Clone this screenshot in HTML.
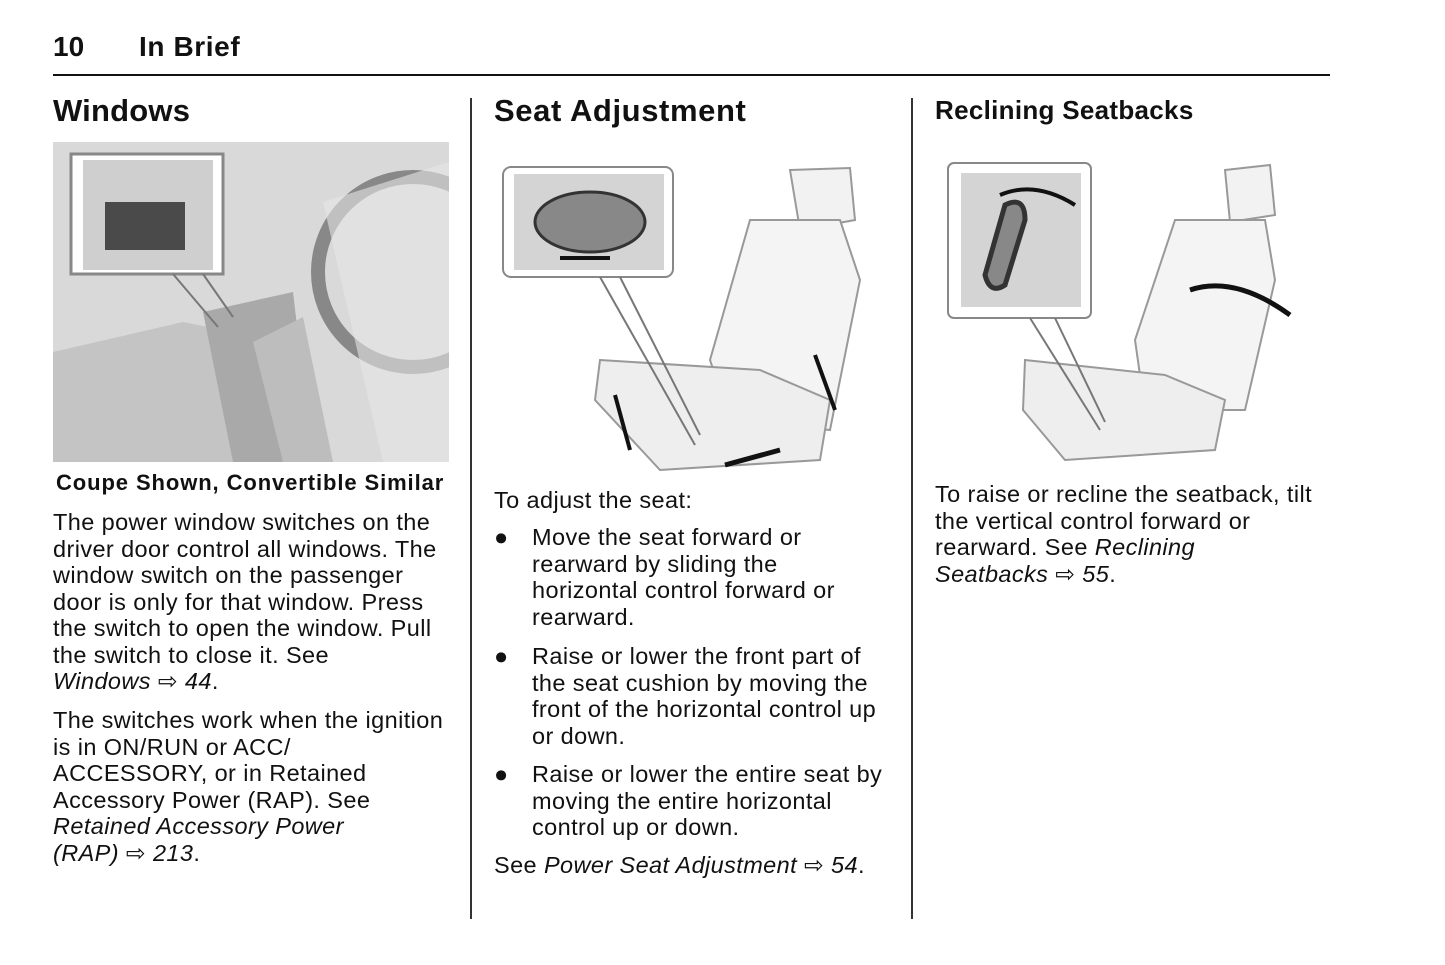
<!DOCTYPE html>
<html><head><meta charset="utf-8"><style>
body{margin:0;width:1445px;height:965px;background:#fff;position:relative;font-family:"Liberation Sans",Arial,sans-serif;color:#111;overflow:hidden}
.t{position:absolute;white-space:nowrap;font-size:23.5px;line-height:26.5px;letter-spacing:0.4px}
.b{font-weight:bold}
i{font-style:italic}
</style></head><body>
<div class="t b" style="left:53px;top:31px;font-size:28px;line-height:32px;letter-spacing:0">10</div>
<div class="t b" style="left:139px;top:31px;font-size:28px;line-height:32px;letter-spacing:0.6px">In Brief</div>
<div style="position:absolute;left:53px;top:74px;width:1277px;height:2px;background:#111"></div>
<div style="position:absolute;left:470px;top:98px;width:2px;height:821px;background:#333"></div>
<div style="position:absolute;left:911px;top:98px;width:2px;height:821px;background:#333"></div>

<div class="t b" style="left:53px;top:92px;font-size:31px;line-height:38px;letter-spacing:0.2px">Windows</div>
<svg style="position:absolute;left:53px;top:142px" width="396" height="320">
<rect width="396" height="320" fill="#d9d9d9"/>
<path d="M0 210 L130 180 L230 200 L250 320 L0 320Z" fill="#c4c4c4"/>
<path d="M150 170 L240 150 L260 320 L180 320Z" fill="#a9a9a9"/>
<path d="M200 200 L250 175 L280 320 L230 320Z" fill="#bdbdbd"/>
<circle cx="360" cy="130" r="95" fill="none" stroke="#888" stroke-width="14"/>
<path d="M270 60 L396 20 L396 320 L330 320Z" fill="#e6e6e6" opacity=".6"/>
<rect x="18" y="12" width="152" height="120" fill="#fff" stroke="#888" stroke-width="3"/>
<rect x="30" y="18" width="130" height="110" fill="#cfcfcf"/>
<rect x="52" y="60" width="80" height="48" fill="#4a4a4a"/>
<line x1="120" y1="132" x2="165" y2="185" stroke="#777" stroke-width="2"/>
<line x1="150" y1="132" x2="180" y2="175" stroke="#777" stroke-width="2"/>
</svg>
<div class="t b" style="left:56px;top:470px;font-size:22px;letter-spacing:0.9px">Coupe Shown, Convertible Similar</div>
<div class="t" style="left:53px;top:509px">The power window switches on the<br>driver door control all windows. The<br>window switch on the passenger<br>door is only for that window. Press<br>the switch to open the window. Pull<br>the switch to close it. See<br><i>Windows</i> ⇨ <i>44</i>.</div>
<div class="t" style="left:53px;top:707px">The switches work when the ignition<br>is in ON/RUN or ACC/<br>ACCESSORY, or in Retained<br>Accessory Power (RAP). See<br><i>Retained Accessory Power</i><br><i>(RAP)</i> ⇨ <i>213</i>.</div>

<div class="t b" style="left:494px;top:92px;font-size:31px;line-height:38px;letter-spacing:0.6px">Seat Adjustment</div>
<svg style="position:absolute;left:500px;top:160px" width="380" height="320">
<path d="M290 10 L350 8 L355 60 L300 70Z" fill="#f2f2f2" stroke="#999" stroke-width="2"/>
<path d="M250 60 L340 60 L360 120 L330 270 L230 260 L210 200Z" fill="#f4f4f4" stroke="#999" stroke-width="2"/>
<path d="M100 200 L260 210 L330 240 L320 300 L160 310 L95 240Z" fill="#eee" stroke="#999" stroke-width="2"/>
<rect x="3" y="7" width="170" height="110" rx="8" fill="#fff" stroke="#888" stroke-width="2"/>
<rect x="14" y="14" width="150" height="96" fill="#d4d4d4"/>
<ellipse cx="90" cy="62" rx="55" ry="30" fill="#888" stroke="#333" stroke-width="3"/>
<line x1="100" y1="117" x2="195" y2="285" stroke="#777" stroke-width="2"/>
<line x1="120" y1="117" x2="200" y2="275" stroke="#777" stroke-width="2"/>
<path d="M60 98 L110 98" stroke="#111" stroke-width="4"/>
<path d="M225 305 L280 290" stroke="#111" stroke-width="5"/>
<path d="M115 235 L130 290" stroke="#111" stroke-width="4"/>
<path d="M315 195 L335 250" stroke="#111" stroke-width="4"/>
</svg>
<div class="t" style="left:494px;top:487px">To adjust the seat:</div>
<div class="t" style="left:494px;top:524px">●</div>
<div class="t" style="left:532px;top:524px">Move the seat forward or<br>rearward by sliding the<br>horizontal control forward or<br>rearward.</div>
<div class="t" style="left:494px;top:643px">●</div>
<div class="t" style="left:532px;top:643px">Raise or lower the front part of<br>the seat cushion by moving the<br>front of the horizontal control up<br>or down.</div>
<div class="t" style="left:494px;top:761px">●</div>
<div class="t" style="left:532px;top:761px">Raise or lower the entire seat by<br>moving the entire horizontal<br>control up or down.</div>
<div class="t" style="left:494px;top:852px">See <i>Power Seat Adjustment</i> ⇨ <i>54</i>.</div>

<div class="t b" style="left:935px;top:95px;font-size:26px;line-height:30px;letter-spacing:0.3px">Reclining Seatbacks</div>
<svg style="position:absolute;left:945px;top:160px" width="360" height="305">
<path d="M280 10 L325 5 L330 55 L285 62Z" fill="#f2f2f2" stroke="#999" stroke-width="2"/>
<path d="M230 60 L320 60 L330 120 L300 250 L200 250 L190 180Z" fill="#f4f4f4" stroke="#999" stroke-width="2"/>
<path d="M80 200 L220 215 L280 240 L270 290 L120 300 L78 250Z" fill="#eee" stroke="#999" stroke-width="2"/>
<rect x="3" y="3" width="143" height="155" rx="6" fill="#fff" stroke="#888" stroke-width="2"/>
<rect x="16" y="13" width="120" height="134" fill="#d4d4d4"/>
<path d="M60 45 Q80 35 80 60 L60 125 Q45 135 40 115Z" fill="#888" stroke="#333" stroke-width="5"/>
<path d="M55 35 Q90 20 130 45" fill="none" stroke="#111" stroke-width="4"/>
<path d="M245 130 Q290 115 345 155" fill="none" stroke="#111" stroke-width="5"/>
<line x1="85" y1="158" x2="155" y2="270" stroke="#777" stroke-width="2"/>
<line x1="110" y1="158" x2="160" y2="262" stroke="#777" stroke-width="2"/>
</svg>
<div class="t" style="left:935px;top:481px">To raise or recline the seatback, tilt<br>the vertical control forward or<br>rearward. See <i>Reclining</i><br><i>Seatbacks</i> ⇨ <i>55</i>.</div>
</body></html>
